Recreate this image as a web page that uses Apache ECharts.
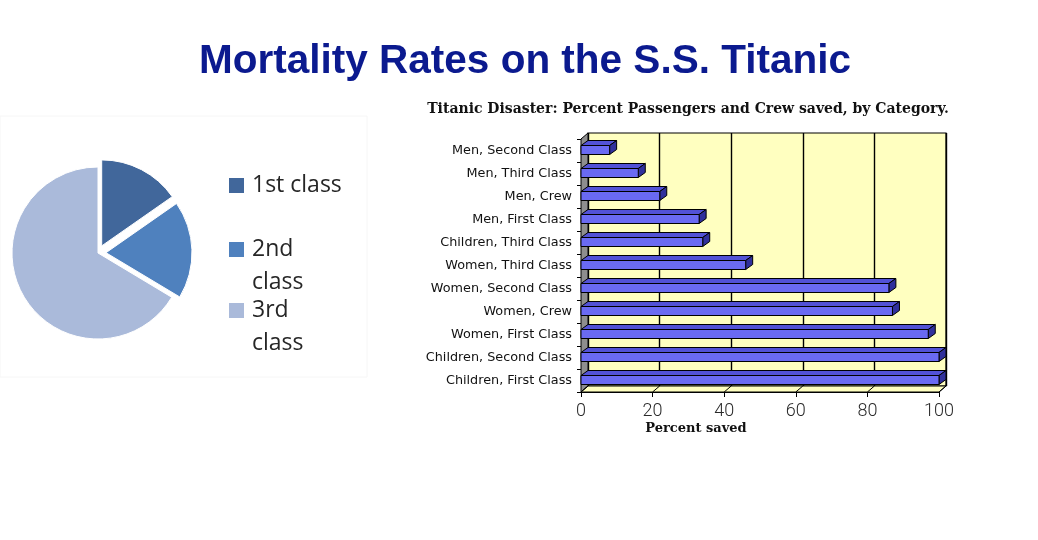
<!DOCTYPE html>
<html>
<head>
<meta charset="utf-8">
<script src="https://cdn.jsdelivr.net/npm/echarts@6/dist/echarts.min.js"></script>
<style>
html,body{margin:0;padding:0;background:#fff;}
#chart{width:1038px;height:540px;}
</style>
</head>
<body>
<div id="chart"></div>
<script>
// ---- data ----
const mainTitle = 'Mortality Rates on the S.S. Titanic';
const pieClasses = ['1st class', '2nd class', '3rd class'];
const pieLegendLabels = ['1st class', '2nd\nclass', '3rd\nclass'];
const pieShares = [15.3, 18.3, 66.4];
const pieColors = ['#41679B', '#4F81BE', '#AABADA'];

const barTitle = 'Titanic Disaster: Percent Passengers and Crew saved, by Category.';
const categories = [
  'Men, Second Class', 'Men, Third Class', 'Men, Crew', 'Men, First Class',
  'Children, Third Class', 'Women, Third Class', 'Women, Second Class',
  'Women, Crew', 'Women, First Class', 'Children, Second Class', 'Children, First Class'
];
const percentSaved = [8, 16, 22, 33, 34, 46, 86, 87, 97, 100, 100];
const xTicks = [0, 20, 40, 60, 80, 100];
const xAxisName = 'Percent saved';

// ---- style constants ----
const DX = 7, DY = -6;          // 3D depth offset
const BAR_H = 9;
const FRONT = '#6A6AF2', TOP = '#5252D6', SIDE = '#30309C';
const WALL = '#FFFFC0', LEFTWALL = '#8E8E8E';

const chart = echarts.init(document.getElementById('chart'));

// legend built from pie arrays
const legendTops = [178, 242, 303];
const legendGraphics = [];
pieLegendLabels.forEach((lab, i) => {
  legendGraphics.push({
    type: 'rect', shape: {x: 229, y: legendTops[i], width: 15, height: 15},
    style: {fill: pieColors[i]}
  });
  lab.split('\n').forEach((line, j) => {
    legendGraphics.push({
      type: 'text', x: 252, y: legendTops[i] + 7 + j * 33,
      style: {text: line, font: '23px "Open Sans"', fill: '#262626', verticalAlign: 'middle', align: 'left'}
    });
  });
});

const option = {
  animation: false,
  backgroundColor: '#ffffff',
  grid: [
    {left: 581, top: 139, right: 99, bottom: 148, show: false},
    {left: 588, top: 133, right: 92, bottom: 154, show: true, backgroundColor: WALL, borderColor: '#000', borderWidth: 1.2}
  ],
  xAxis: [
    {
      gridIndex: 0, type: 'value', min: 0, max: 100, interval: 20,
      axisLine: {show: true, lineStyle: {color: '#000', width: 1}},
      axisTick: {show: true, length: 5, lineStyle: {color: '#000'}},
      splitLine: {show: false},
      axisLabel: {fontSize: 18, color: '#2a2a2a', margin: 10, fontFamily: 'Roboto', fontWeight: 300}
    },
    {
      gridIndex: 1, type: 'value', min: 0, max: 100, interval: 20,
      axisLine: {show: false}, axisTick: {show: false}, axisLabel: {show: false},
      splitLine: {show: true, lineStyle: {color: '#000', width: 1.4}}
    }
  ],
  yAxis: [
    {
      gridIndex: 0, type: 'category', data: categories, inverse: true,
      axisLine: {show: true, lineStyle: {color: '#000'}},
      axisTick: {show: true, length: 4, lineStyle: {color: '#000'}},
      axisLabel: {fontSize: 12.8, color: '#111', margin: 9, fontFamily: 'DejaVu Sans'}
    },
    {
      gridIndex: 1, type: 'category', data: categories, inverse: true, show: false
    }
  ],
  series: [
    {
      type: 'pie', center: [98, 253], radius: 86, startAngle: 90, clockwise: true,
      selectedMode: 'multiple', selectedOffset: 8,
      label: {show: false}, labelLine: {show: false},
      emphasis: {disabled: true},
      itemStyle: {borderColor: '#fff', borderWidth: 1},
      data: pieClasses.map((c, i) => ({
        name: c, value: pieShares[i], selected: i < 2, itemStyle: {color: pieColors[i]}
      }))
    },
    {
      // left wall and floor
      type: 'custom', xAxisIndex: 0, yAxisIndex: 0, z: 1, silent: true,
      data: [[0, 0]],
      renderItem: function (params, api) {
        const cs = params.coordSys;
        const x = cs.x, y = cs.y, w = cs.width, h = cs.height;
        const children = [
          {type: 'polygon', shape: {points: [[x, y], [x + DX, y + DY], [x + DX, y + h + DY], [x, y + h]]},
            style: {fill: LEFTWALL, stroke: '#000', lineWidth: 1}},
          {type: 'polygon', shape: {points: [[x, y + h], [x + w, y + h], [x + w + DX, y + h + DY], [x + DX, y + h + DY]]},
            style: {fill: WALL, stroke: '#000', lineWidth: 1}}
        ];
        xTicks.forEach(v => {
          const px = api.coord([v, 0])[0];
          children.push({type: 'line', shape: {x1: px, y1: y + h, x2: px + DX, y2: y + h + DY},
            style: {stroke: '#000', lineWidth: 1}});
        });
        return {type: 'group', children: children};
      }
    },
    {
      type: 'custom', xAxisIndex: 0, yAxisIndex: 0, z: 3, silent: true,
      data: percentSaved.map((v, i) => [v, i]),
      encode: {x: 0, y: 1},
      renderItem: function (params, api) {
        const idx = api.value(1), val = api.value(0);
        const p0 = api.coord([0, idx]);
        const p1 = api.coord([val, idx]);
        const cy = p0[1] - 0.5;
        const x0 = p0[0], x1 = p1[0];
        const yt = cy - BAR_H / 2, yb = cy + BAR_H / 2;
        return {type: 'group', children: [
          {type: 'polygon', shape: {points: [[x0, yt], [x0 + DX, yt + DY + 1], [x1 + DX, yt + DY + 1], [x1, yt]]},
            style: {fill: TOP, stroke: '#000', lineWidth: 1}},
          {type: 'polygon', shape: {points: [[x1, yt], [x1 + DX, yt + DY + 1], [x1 + DX, yb + DY + 1], [x1, yb]]},
            style: {fill: SIDE, stroke: '#000', lineWidth: 1}},
          {type: 'rect', shape: {x: x0, y: yt, width: x1 - x0, height: BAR_H},
            style: {fill: FRONT, stroke: '#000', lineWidth: 1}}
        ]};
      }
    }
  ],
  graphic: [
    {type: 'rect', shape: {x: 0, y: 116, width: 367, height: 261}, style: {fill: '#fff', stroke: '#F6F6F6', lineWidth: 1}, z: -10},
    {type: 'text', x: 525, y: 62, style: {text: mainTitle, font: 'bold 40.5px "Liberation Sans"', fill: '#0B1A8F', align: 'center', verticalAlign: 'middle'}},
    {type: 'text', x: 688, y: 109, style: {text: barTitle, font: 'bold 14px "DejaVu Serif"', fill: '#111', align: 'center', verticalAlign: 'middle'}},
    {type: 'text', x: 696, y: 429, style: {text: xAxisName, font: 'bold 13px "DejaVu Serif"', fill: '#111', align: 'center', verticalAlign: 'middle'}}
  ].concat(legendGraphics)
};
chart.setOption(option);
</script>
</body>
</html>
